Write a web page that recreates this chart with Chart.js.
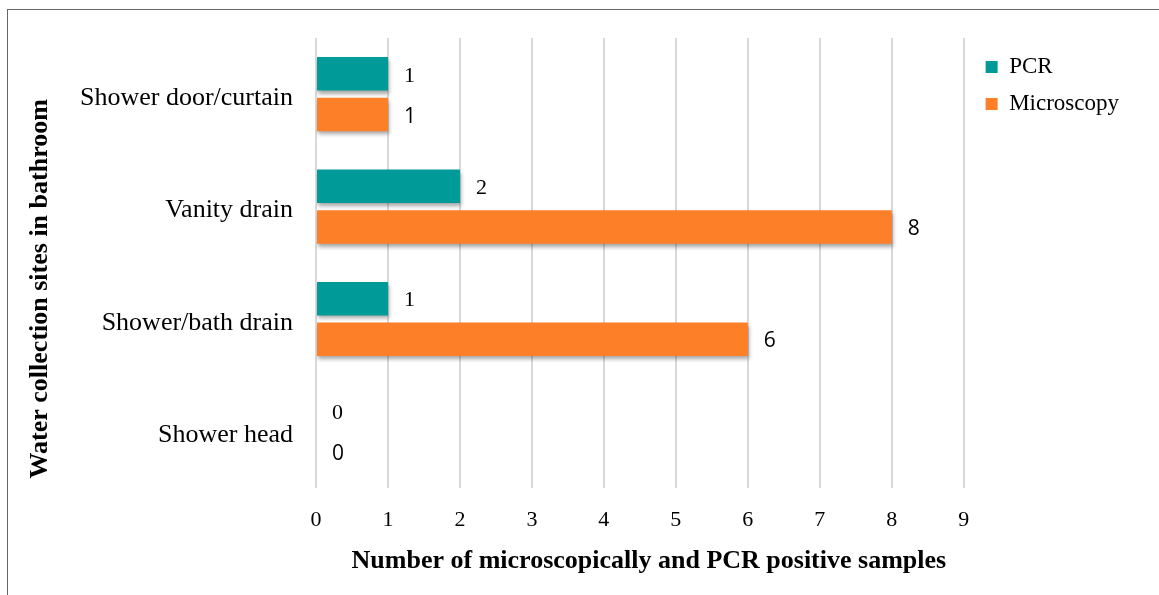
<!DOCTYPE html>
<html>
<head>
<meta charset="utf-8">
<script src="https://cdn.jsdelivr.net/npm/chart.js@4/dist/chart.umd.min.js"></script>
<style>
  body { margin: 0; background: #fff; }
  #wrap { position: relative; width: 1159px; height: 595px; }
  #frame { position: absolute; left: 7px; top: 9px; right: 0; bottom: 0; border-left: 1px solid #666; border-top: 1px solid #666; }
  canvas { position: absolute; left: 0; top: 0; }
</style>
</head>
<body>
<div id="wrap">
  <div id="frame"></div>
  <canvas id="siteChart" width="1159" height="595"></canvas>
</div>
<script>
const sites = ['Shower door/curtain', 'Vanity drain', 'Shower/bath drain', 'Shower head'];
const pcrPositive = [1, 2, 1, 0];
const microscopyPositive = [1, 8, 6, 0];
const xTicks = [0, 1, 2, 3, 4, 5, 6, 7, 8, 9];
const xTitle = 'Number of microscopically and PCR positive samples';
const yTitle = 'Water collection sites in bathroom';

const serif = '"Liberation Serif", "Times New Roman", serif';
const sans = '"Open Sans", "Liberation Sans", sans-serif';

// soft drop shadow under the bars, like the office chart
const barShadow = {
    id: 'barShadow',
    beforeDatasetsDraw(chart) {
        const ctx = chart.ctx;
        ctx.save();
        ctx.shadowColor = 'rgba(0,0,0,0.35)';
        ctx.shadowBlur = 4;
        ctx.shadowOffsetX = 1;
        ctx.shadowOffsetY = 3;
    },
    afterDatasetsDraw(chart) {
        chart.ctx.restore();
    }
};

const valueLabels = {
    id: 'valueLabels',
    afterDraw(chart) {
        const ctx = chart.ctx;
        ctx.save();
        ctx.fillStyle = '#000';
        ctx.textBaseline = 'middle';
        ctx.textAlign = 'left';
        chart.data.datasets.forEach((ds, i) => {
            ctx.font = i === 0 ? '22px ' + serif : '21px ' + sans;
            chart.getDatasetMeta(i).data.forEach((bar, j) => {
                ctx.fillText(String(ds.data[j]), bar.x + 16, bar.y + 2);
            });
        });
        ctx.restore();
    }
};

// axis titles sit a little off-centre in the original, so draw them here
const axisTitles = {
    id: 'axisTitles',
    afterDraw(chart) {
        const { ctx, chartArea, scales } = chart;
        ctx.save();
        ctx.fillStyle = '#000';
        ctx.font = 'bold 26px ' + serif;
        ctx.textAlign = 'center';
        ctx.textBaseline = 'middle';
        ctx.fillText(xTitle, scales.x.getPixelForValue(4.5) + 9, 561);
        ctx.translate(40, (chartArea.top + chartArea.bottom) / 2 + 26);
        ctx.rotate(-Math.PI / 2);
        ctx.fillText(yTitle, 0, 0);
        ctx.restore();
    }
};

new Chart(document.getElementById('siteChart').getContext('2d'), {
    type: 'bar',
    data: {
        labels: sites,
        datasets: [
            { label: 'PCR', data: pcrPositive, backgroundColor: '#009b98', categoryPercentage: 0.724, barPercentage: 0.823 },
            { label: 'Microscopy', data: microscopyPositive, backgroundColor: '#fd7f28', categoryPercentage: 0.724, barPercentage: 0.823 }
        ]
    },
    options: {
        indexAxis: 'y',
        responsive: false,
        animation: false,
        layout: { padding: { left: 65, top: 38, right: 30, bottom: 43 } },
        plugins: {
            tooltip: { enabled: false },
            legend: {
                position: 'right',
                align: 'start',
                title: { display: true, text: '', padding: 0, font: { size: 3 } },
                labels: {
                    font: { family: serif, size: 23 },
                    color: '#000',
                    boxWidth: 12,
                    boxHeight: 12,
                    padding: 14
                }
            }
        },
        scales: {
            x: {
                min: 0,
                max: 9.11,   // a little room after the 9 line, before the legend
                afterBuildTicks(axis) { axis.ticks = xTicks.map(v => ({ value: v })); },
                grid: { color: '#d9d9d9', lineWidth: 2, drawTicks: false },
                border: { display: false },
                ticks: { font: { family: serif, size: 22 }, color: '#000', padding: 19 }
            },
            y: {
                grid: { display: false },
                border: { display: false },
                ticks: { font: { family: serif, size: 26 }, color: '#000', padding: 15, labelOffset: 4 }
            }
        }
    },
    plugins: [barShadow, valueLabels, axisTitles]
});
</script>
</body>
</html>
